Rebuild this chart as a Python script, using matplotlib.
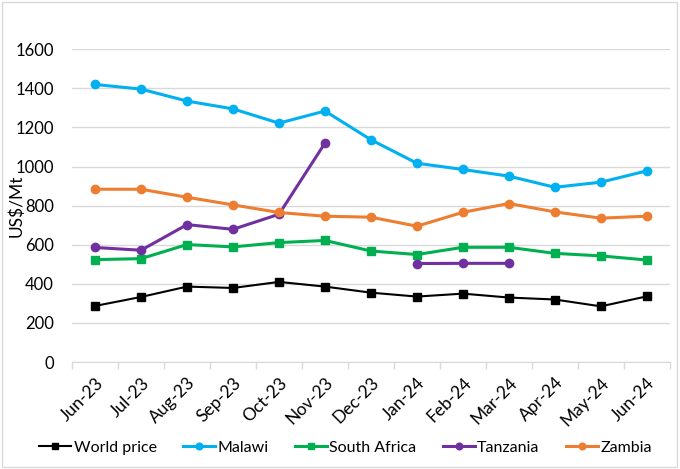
import matplotlib
matplotlib.use("Agg")
import matplotlib.pyplot as plt
import numpy as np
from matplotlib.patches import Rectangle

plt.rcParams['font.family'] = ['Lato', 'DejaVu Sans']

months = ['Jun-23', 'Jul-23', 'Aug-23', 'Sep-23', 'Oct-23', 'Nov-23', 'Dec-23',
          'Jan-24', 'Feb-24', 'Mar-24', 'Apr-24', 'May-24', 'Jun-24']

world = [287, 333, 386, 379, 410, 386, 355, 335, 350, 330, 320, 285, 336]
malawi = [1420, 1396, 1335, 1295, 1222, 1284, 1137, 1017, 985, 951, 894, 920, 978]
south_africa = [524, 529, 601, 589, 611, 622, 568, 550, 587, 587, 556, 543, 522]
tanzania = [586, 572, 703, 679, 756, 1120, np.nan, 504, 505, 505, np.nan, np.nan, np.nan]
zambia = [884, 884, 843, 804, 765, 746, 741, 695, 766, 811, 768, 736, 746]

x = np.arange(len(months))

fig = plt.figure(figsize=(6.8, 4.69), dpi=100)
ax = fig.add_axes([0.106, 0.228, 0.879, 0.667])

ax.plot(x, world, '-s', color='black', lw=1.5, ms=5.5, label='World price')
ax.plot(x, malawi, '-o', color='#00B0F0', lw=2.2, ms=6, label='Malawi')
ax.plot(x, south_africa, '-s', color='#00B050', lw=2.2, ms=6, label='South Africa')
ax.plot(x, tanzania, '-o', color='#7030A0', lw=2.2, ms=6, label='Tanzania')
ax.plot(x, zambia, '-o', color='#ED7D31', lw=2.2, ms=6, label='Zambia')

ax.set_xlim(-0.5, len(months) - 0.5)
ax.set_ylim(0, 1600)
ax.set_yticks(range(0, 1601, 200))
ax.set_xticks(x)
ax.set_xticklabels(months, rotation=45, ha='right', rotation_mode='anchor', fontsize=12.5)
ax.set_xticks(np.arange(-0.5, len(months), 1), minor=True)
ax.tick_params(axis='x', which='major', length=0, pad=9)
ax.tick_params(axis='x', which='minor', length=5, color='#D9D9D9', width=1)
ax.tick_params(axis='y', length=0, labelsize=12, pad=13)
ax.grid(axis='y', color='#D9D9D9', lw=1)
ax.set_axisbelow(True)
for s in ['top', 'right', 'left']:
    ax.spines[s].set_visible(False)
ax.spines['bottom'].set_color('#D9D9D9')
ax.set_ylabel('US$/Mt', fontsize=12.5)
ax.yaxis.set_label_coords(-0.08, 0.5)

fig.legend(loc='lower center', ncol=5, frameon=False, fontsize=11.5,
           bbox_to_anchor=(0.508, 0.0), handlelength=2.0, handletextpad=0.15,
           columnspacing=1.65, markerscale=0.8)

fig.patches.append(Rectangle((0.003, 0.005), 0.992, 0.99, transform=fig.transFigure,
                             fill=False, edgecolor='#D9D9D9', lw=1))

fig.savefig('out.png', dpi=100)
